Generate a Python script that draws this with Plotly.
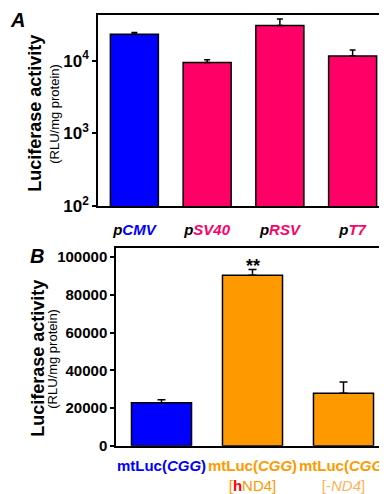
import plotly.graph_objects as go

W, H = 387, 494

# Panel A data
a_categories = ["pCMV", "pSV40", "pRSV", "pT7"]
a_values = [23000, 9400, 30400, 11600]
a_err_plus = [1400, 900, 7100, 2400]
a_colors = ["#0000FF", "#FF0066", "#FF0066", "#FF0066"]
a_ticktext = [
    "<b><i>p</i></b><span style='color:#0000FF'><b><i>CMV</i></b></span>",
    "<b><i>p</i></b><span style='color:#FF0066'><b><i>SV40</i></b></span>",
    "<b><i>p</i></b><span style='color:#FF0066'><b><i>RSV</i></b></span>",
    "<b><i>p</i></b><span style='color:#FF0066'><b><i>T7</i></b></span>",
]
a_yticks = [100, 1000, 10000]
a_yticktext = ["10<sup>2</sup>", "10<sup>3</sup>", "10<sup>4</sup>"]

# Panel B data
b_categories = ["mtLuc(CGG)", "mtLuc(CGG)[hND4]", "mtLuc(CGG)[-ND4]"]
b_values = [22700, 90400, 27750]
b_err_plus = [1600, 3100, 6050]
b_colors = ["#0000FF", "#FF9900", "#FF9900"]
b_ticktext = [
    "<span style='color:#0000FF'><b>mtLuc(<i>CGG</i>)</b></span>",
    "<span style='color:#FF9900'><b>mtLuc(<i>CGG</i>)</b></span><br><span style='color:#FF9900'>[</span><span style='color:#FF0000'><b>h</b></span><span style='color:#FF9900'>ND4]</span>",
    "<span style='color:#FF9900'><b>mtLuc(<i>CGG</i>)</b></span><br><span style='color:#FFB15A'>[-<i>ND4</i>]</span>",
]
b_yticks = [0, 20000, 40000, 60000, 80000, 100000]

def px(x):
    return x / W

def py(y):
    return 1 - y / H

fig = go.Figure()

fig.add_trace(go.Bar(
    x=a_categories, y=a_values, marker=dict(color=a_colors, line=dict(color="black", width=1.5)),
    width=0.66,
    error_y=dict(type="data", symmetric=False, array=a_err_plus, arrayminus=[0]*4,
                 color="black", thickness=1.5, width=3),
    xaxis="x", yaxis="y", showlegend=False,
))
fig.add_trace(go.Bar(
    x=b_categories, y=b_values, marker=dict(color=b_colors, line=dict(color="black", width=1.5)),
    width=0.66,
    error_y=dict(type="data", symmetric=False, array=b_err_plus, arrayminus=[0]*3,
                 color="black", thickness=1.5, width=4),
    xaxis="x2", yaxis="y2", showlegend=False,
))

axis_common = dict(showline=True, linecolor="black", linewidth=1.5, mirror=True,
                   showgrid=False, zeroline=False)

fig.update_layout(
    width=W, height=H,
    margin=dict(l=0, r=0, t=0, b=0),
    paper_bgcolor="white", plot_bgcolor="white",
    font=dict(family="Liberation Sans, Arial", color="black"),
    xaxis=dict(domain=[px(90), px(381)], anchor="y", type="category",
               tickvals=a_categories, ticktext=a_ticktext, ticks="", tickangle=0,
               ticklabelstandoff=9,
               tickfont=dict(size=15), **axis_common),
    yaxis=dict(domain=[py(202), py(7)], anchor="x", type="log", range=[2, 4.63],
               tickvals=a_yticks, ticktext=a_yticktext, ticks="outside", ticklen=4,
               tickwidth=1.5, tickcolor="black",
               tickfont=dict(size=17, weight="bold"), **axis_common),
    xaxis2=dict(domain=[px(108), px(381)], anchor="y2", type="category",
                tickvals=b_categories, ticktext=b_ticktext, ticks="", tickangle=0,
                ticklabelstandoff=6,
                tickfont=dict(size=15), **axis_common),
    yaxis2=dict(domain=[py(446.7), py(244.7)], anchor="x2", range=[0, 105000],
                tickvals=b_yticks, ticktext=[str(v) for v in b_yticks],
                ticks="outside", ticklen=4, tickwidth=1.5, tickcolor="black",
                tickfont=dict(size=15, weight="bold"), **axis_common),
    bargap=0.34,
)

ann = []
# Panel labels
ann.append(dict(text="<b><i>A</i></b>", x=px(9), y=py(12), xref="paper", yref="paper",
                showarrow=False, font=dict(size=20), xanchor="center", yanchor="middle"))
ann.append(dict(text="<b><i>B</i></b>", x=px(29), y=py(253), xref="paper", yref="paper",
                showarrow=False, font=dict(size=20), xanchor="center", yanchor="middle"))
# Y titles
for (x1, x2, yc) in [(27, 47, 108), (30, 45, 358)]:
    ann.append(dict(text="<b>Luciferase activity</b>", x=px(x1), y=py(yc), xref="paper", yref="paper",
                    textangle=-90, showarrow=False, font=dict(size=18),
                    xanchor="center", yanchor="middle"))
    ann.append(dict(text="(RLU/mg protein)", x=px(x2), y=py(yc), xref="paper", yref="paper",
                    textangle=-90, showarrow=False, font=dict(size=13),
                    xanchor="center", yanchor="middle"))
# significance marker
ann.append(dict(text="<b>**</b>", x=b_categories[1], y=b_values[1] + b_err_plus[1],
                xref="x2", yref="y2", showarrow=False, font=dict(size=18),
                xanchor="center", yanchor="bottom", yshift=-9))
fig.update_layout(annotations=ann)

fig.write_html("out.html")
